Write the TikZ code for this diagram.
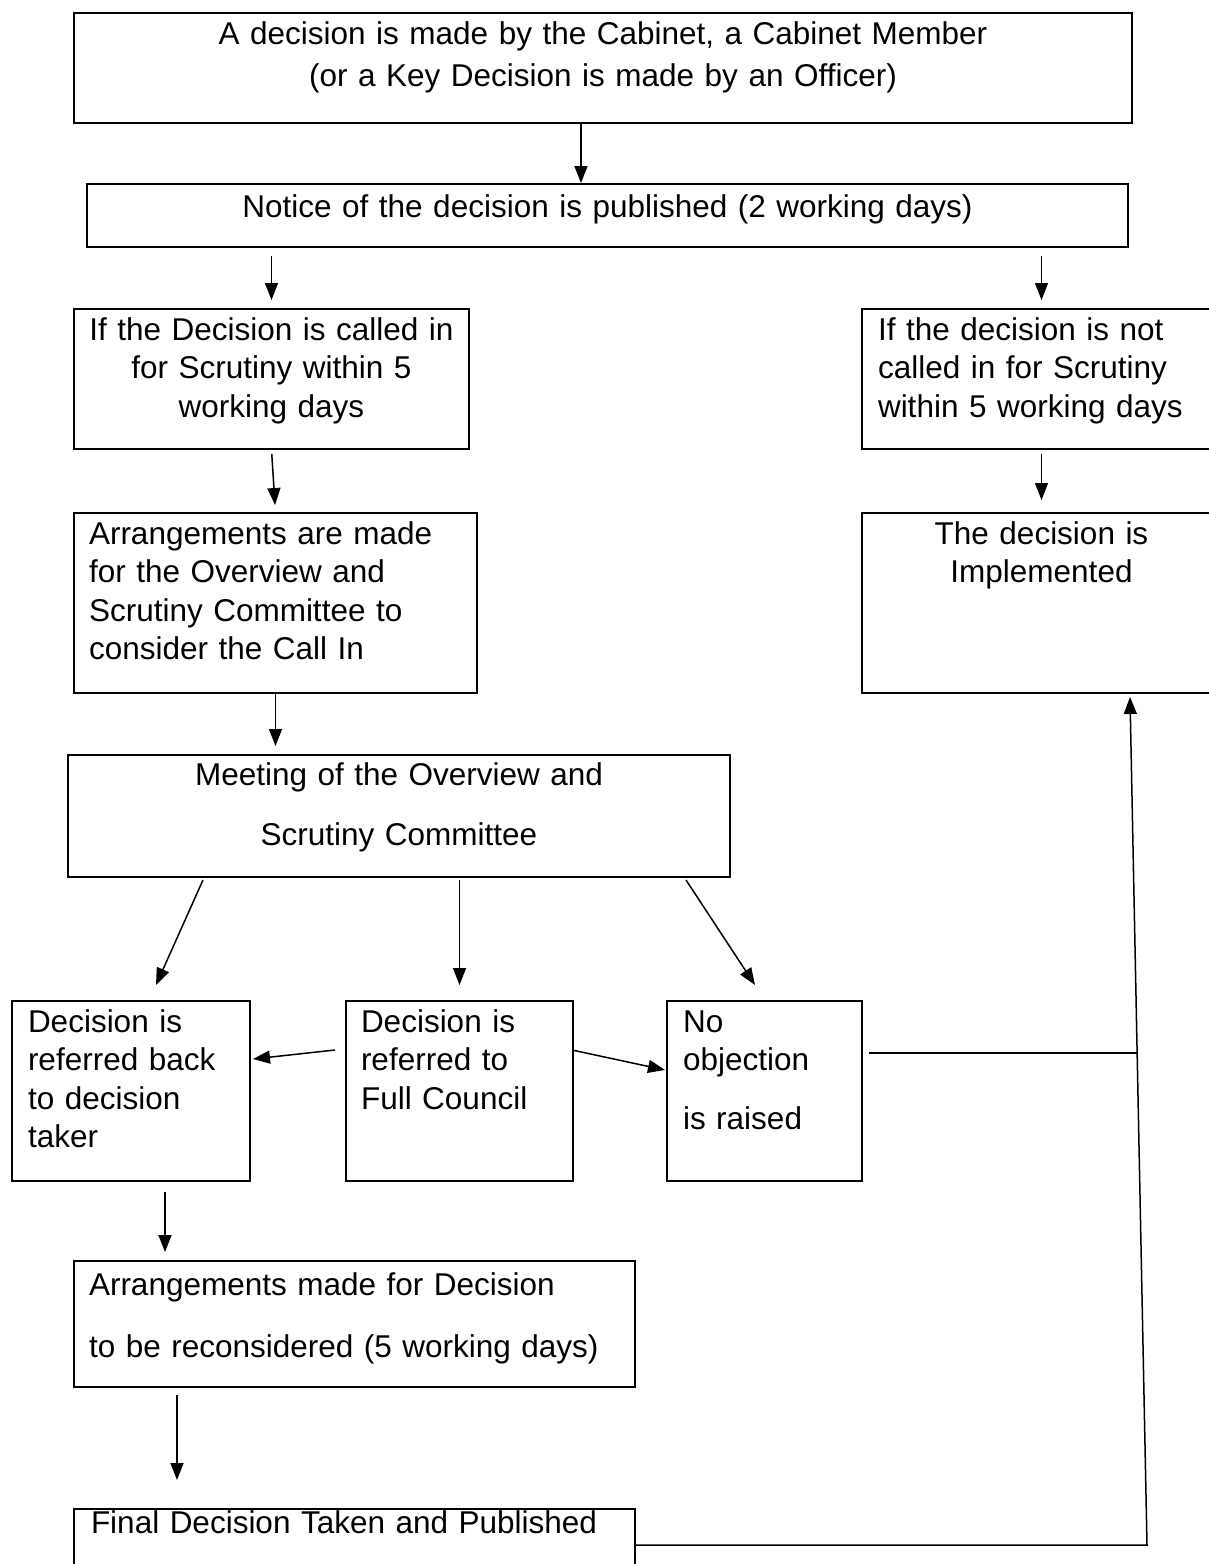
\documentclass[tikz,border=0pt]{standalone}
\usepackage{fontspec}
\setmainfont{Liberation Sans}
\usetikzlibrary{arrows.meta,calc}

\begin{document}
\begin{tikzpicture}[x=1pt,y=-1pt,
    box/.style={draw, line width=2pt, anchor=north west, inner xsep=15pt, inner ysep=0pt,
        font=\fontsize{31.5}{38.5}\selectfont},
    arr/.style={line width=1.5pt, -{Triangle[width=13pt,length=17pt]}},
    link/.style={line width=1.5pt}]

    %%%%% START %%%%%
    \useasboundingbox (0,0) rectangle (1208,1564);

    % boxes (text width = box width - 2*inner xsep, text height = first baseline)
    \node[box, align=center, text width=1028pt, text height=31pt, text depth=79pt] (made) at (73,12)
        {A decision is made by the Cabinet, a Cabinet Member\\[3.5pt](or a Key Decision is made by an Officer)};
    \node[box, align=center, text width=1011pt, text height=33pt, text depth=30pt] (notice) at (86,183)
        {Notice of the decision is published (2 working days)};

    \node[box, align=center, inner xsep=10pt, text width=375pt, text height=31pt, text depth=109pt] (callin) at (73,308)
        {If the Decision is called in\\for Scrutiny within 5\\working days};
    \node[box, align=left, inner xsep=16pt, text width=327pt, text height=31pt, text depth=109pt] (notcalled) at (861,308)
        {If the decision is not\\called in for Scrutiny\\within 5 working days};

    \node[box, align=left, text width=373pt, text height=31pt, text depth=149pt] (arrange) at (73,512)
        {Arrangements are made\\for the Overview and\\Scrutiny Committee to\\consider the Call In};
    \node[box, align=center, inner xsep=10pt, text width=339pt, text height=31pt, text depth=149pt] (implemented) at (861,512)
        {The decision is\\Implemented};

    \node[box, align=center, text width=632pt, text height=30pt, text depth=92pt] (meeting) at (67,754)
        {Meeting of the Overview and\\[21.5pt]Scrutiny Committee};

    \node[box, align=left, inner xsep=16pt, text width=206pt, text height=31pt, text depth=149pt] (back) at (11,1000)
        {Decision is\\referred back\\to decision\\taker};
    \node[box, align=left, text width=197pt, text height=31pt, text depth=149pt] (full) at (345,1000)
        {Decision is\\referred to\\Full Council};
    \node[box, align=left, inner xsep=16pt, text width=163pt, text height=31pt, text depth=149pt] (noobj) at (666,1000)
        {No\\objection\\[20.5pt]is raised};

    \node[box, align=left, text width=531pt, text height=34pt, text depth=92pt] (reconsider) at (73,1260)
        {Arrangements made for Decision\\[23.5pt]to be reconsidered (5 working days)};
    \node[box, align=left, inner xsep=17pt, text width=527pt, text height=24pt, text depth=68pt] (final) at (73,1508)
        {Final Decision Taken and Published};

    % return line to the implemented box
    \coordinate (turn) at (1147,1545);
    \coordinate (tip) at (1130,697);
    \coordinate (join) at ($(turn)!0.58!(tip)$);

    % connectors
    \draw[arr] ([xshift=-22pt]made.south) -- ([xshift=-22pt]made.south |- notice.north);
    \draw[arr, shorten <=8pt, shorten >=8pt] (notice.south -| callin.north) -- (callin.north);
    \draw[arr, shorten <=8pt, shorten >=8pt] (notice.south -| notcalled.north) -- (notcalled.north);
    \draw[arr, shorten <=4pt, shorten >=7pt] (callin.south) -- (arrange.north);
    \draw[arr, shorten <=4pt, shorten >=12pt] (notcalled.south) -- (implemented.north);
    \draw[arr, shorten >=8pt] (arrange.south) -- (arrange.south |- meeting.north);

    \draw[arr] ([shift={(136,2)}]meeting.south west) -- ([shift={(25,-15)}]back.north);
    \draw[arr, shorten <=2pt, shorten >=15pt] (meeting.south -| full.north) -- (full.north);
    \draw[arr] ([shift={(-45,2)}]meeting.south east) -- ([shift={(-9.5,-15)}]noobj.north);

    \draw[arr] ([shift={(-10,-41)}]full.west) -- ([shift={(2,-32)}]back.east);
    \draw[arr] ([shift={(-2,-41)}]full.east) -- ([shift={(-1,-21)}]noobj.west);
    \draw[link, shorten <=6pt] (noobj.east |- join) -- (join);

    \draw[arr, shorten <=10pt, shorten >=8pt] ([xshift=34pt]back.south) -- ([xshift=34pt]back.south |- reconsider.north);
    \draw[arr, shorten <=7pt, shorten >=28pt] ([xshift=104pt]reconsider.south west) -- ([xshift=104pt]reconsider.south west |- final.north);
    \draw[arr] (final.east |- turn) -- (turn) -- (tip);
    %%%%% END %%%%%
\end{tikzpicture}
\end{document}
